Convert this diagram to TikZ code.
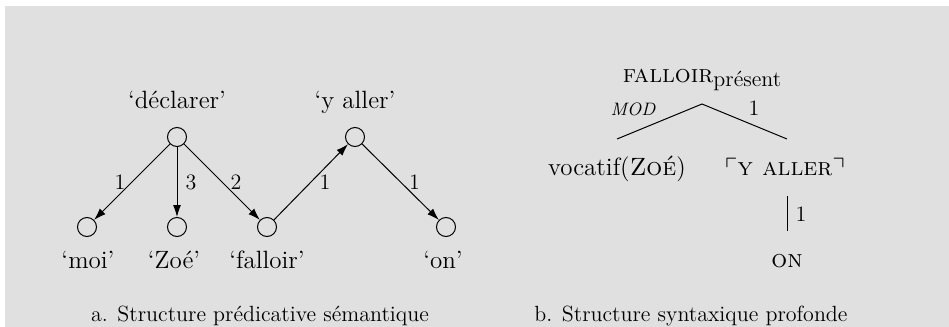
\documentclass[tikz,border=0pt]{standalone}
\usepackage{amssymb}
\usetikzlibrary{arrows.meta}
\definecolor{bggray}{HTML}{E0E0E0}

\begin{document}
\begin{tikzpicture}[x=0.5pt, y=-0.5pt,
    sem/.style={draw, circle, minimum size=9.5pt, inner sep=0pt, line width=0.5pt},
    word/.style={font=\fontsize{12.5}{15}\selectfont, anchor=base, inner sep=0pt},
    edgelbl/.style={font=\fontsize{11}{13}\selectfont, inner sep=1pt},
    arc/.style={-{Latex[length=6pt,width=4pt]}, line width=0.5pt},
    branch/.style={line width=0.5pt},
    caption/.style={font=\fontsize{11}{13}\selectfont, anchor=base, inner sep=0pt},
  ]
  % Background
  \useasboundingbox (0,0) rectangle (949,327);
  \fill[bggray] (5,6) rectangle (949,327);

  % Semantic nodes
  \node[sem] (dec) at (177,137) {};
  \node[sem] (yal) at (355,137) {};
  \node[sem] (moi) at (87,227) {};
  \node[sem] (zoe) at (177,227) {};
  \node[sem] (fal) at (267,227) {};
  \node[sem] (on)  at (446,227) {};

  % Semantic labels
  \node[word] (decw) at (177,108) {‘déclarer’};
  \node[word] (yalw) at (355,108) {‘y aller’};
  \node[word] (moiw) at (88,268)  {‘moi’};
  \node[word] (zoew) at (174,268) {‘Zoé’};
  \node[word] (falw) at (267,268) {‘falloir’};
  \node[word] (onw)  at (443,268) {‘on’};

  % Semantic arcs
  \draw[arc] (dec) -- (moi) node[edgelbl, midway, left=2pt] {1};
  \draw[arc] (dec) -- (zoe) node[edgelbl, midway, right=3pt] {3};
  \draw[arc] (dec) -- (fal) node[edgelbl, midway, right=3pt] {2};
  \draw[arc] (fal) -- (yal) node[edgelbl, midway, right=3pt] {1};
  \draw[arc] (yal) -- (on)  node[edgelbl, midway, right=3pt] {1};

  % Deep syntactic tree
  \node[word] (fallw) at (702,82) {\textsc{falloir}\raisebox{-0.45ex}{\fontsize{11}{13}\selectfont présent}};
  \node[word] (voc) at (617,175) {vocatif(\textsc{Zoé})};
  \node[word] (yaller) at (785,175) {$\ulcorner$\textsc{y aller}$\urcorner$};
  \node[word] (onsc) at (787,267) {\textsc{on}};
  \coordinate (top) at (702,104);
  \coordinate (lend) at (617,139);
  \coordinate (rend) at (787,139);
  \coordinate (vtop) at (787,196);
  \coordinate (vbot) at (787,231);
  \draw[branch] (lend) -- (top) -- (rend);
  \draw[branch] (vtop) -- (vbot);
  \node[word, font=\fontsize{9}{11}\selectfont\itshape] (mod) at (633,115) {MOD};
  \node[word, font=\fontsize{11}{13}\selectfont] (one) at (754,115) {1};
  \node[word, font=\fontsize{11}{13}\selectfont] (vone) at (801,221) {1};

  % Captions
  \node[caption] (capa) at (260,321) {a. Structure prédicative sémantique};
  \node[caption] (capb) at (691,321) {b. Structure syntaxique profonde};
\end{tikzpicture}
\end{document}
